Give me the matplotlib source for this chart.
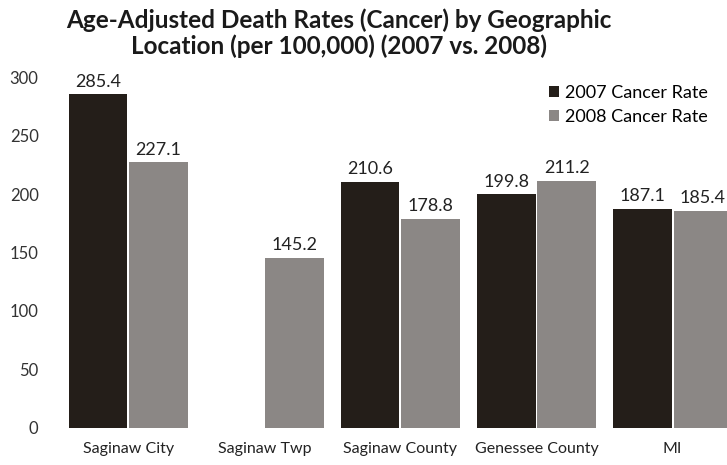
import numpy as np
import matplotlib.pyplot as plt

# data
locations = ["Saginaw City", "Saginaw Twp", "Saginaw County", "Genessee County", "MI"]
rate_2007 = [285.4, np.nan, 210.6, 199.8, 187.1]
rate_2008 = [227.1, 145.2, 178.8, 211.2, 185.4]
series_names = ["2007 Cancer Rate", "2008 Cancer Rate"]
yticks = [0, 50, 100, 150, 200, 250, 300]

plt.rcParams['font.family'] = ['Lato', 'DejaVu Sans']

fig = plt.figure(figsize=(7.27, 4.65), dpi=100)
ax = fig.add_axes([0.076, 0.080, 0.924, 0.754])

x = np.arange(len(locations))
w = 0.43
off = 0.222
b1 = ax.bar(x - off, rate_2007, w, color="#241e19", label=series_names[0])
b2 = ax.bar(x + off, rate_2008, w, color="#8b8785", label=series_names[1])

for bars, vals in ((b1, rate_2007), (b2, rate_2008)):
    for rect, v in zip(bars, vals):
        if np.isnan(v):
            continue
        ax.text(rect.get_x() + rect.get_width() / 2, v + 4, f"{v:.1f}",
                ha="center", va="bottom", fontsize=13, color="#222222")

ax.set_xlim(-0.537, 4.40)
ax.set_ylim(0, 300)
ax.set_yticks(yticks)
ax.set_xticks(x)
ax.set_xticklabels(locations, fontsize=11.5, color="#222222")
ax.tick_params(axis="y", labelsize=12, labelcolor="#333333", length=0, pad=12)
ax.tick_params(axis="x", length=0, pad=10)
for s in ax.spines.values():
    s.set_visible(False)

ax.legend(loc="upper right", bbox_to_anchor=(0.995, 1.025), frameon=False,
          fontsize=13, handlelength=0.55, handleheight=0.55, handletextpad=0.3,
          labelspacing=0.45)

fig.suptitle("Age-Adjusted Death Rates (Cancer) by Geographic\nLocation (per 100,000) (2007 vs. 2008)",
             x=0.466, y=0.982, fontsize=17.5, fontweight="bold", color="#1a1a1a",
             linespacing=1.1)

fig.savefig("out.png", dpi=100)
